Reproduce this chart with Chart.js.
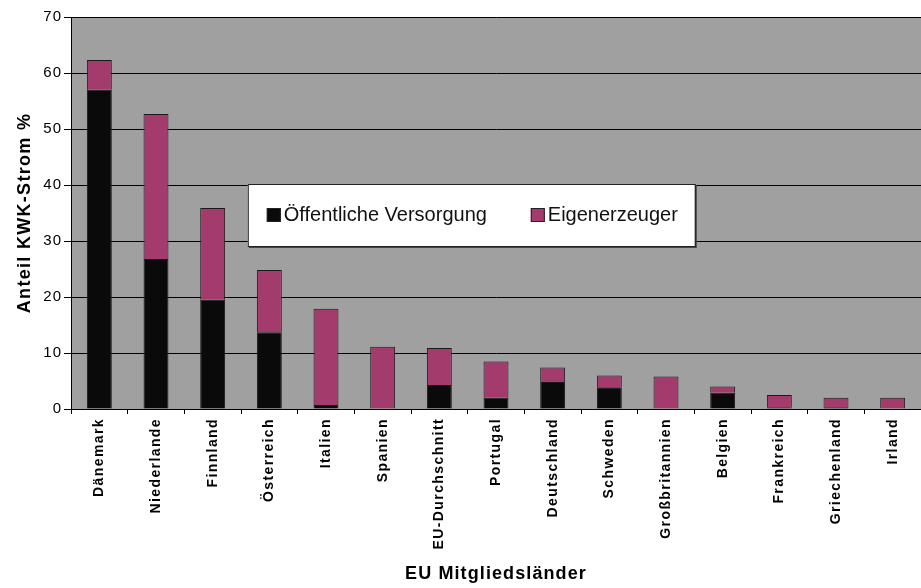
<!DOCTYPE html>
<html>
<head>
<meta charset="utf-8">
<script src="https://cdn.jsdelivr.net/npm/chart.js@4"></script>
<style>
	html, body { margin: 0; padding: 0; background: #fff; }
	#wrap { width: 921px; height: 588px; }
</style>
</head>
<body>
<div id="wrap"><canvas id="kwkChart" width="921" height="588"></canvas></div>
<script>
// EU member states
const countries = ["Dänemark", "Niederlande", "Finnland", "Österreich", "Italien", "Spanien", "EU-Durchschnitt",
	"Portugal", "Deutschland", "Schweden", "Großbritannien", "Belgien", "Frankreich", "Griechenland", "Irland"];

// share of CHP electricity, public supply (%)
const publicSupply = [57.0, 26.8, 19.5, 13.7, 0.7, 0, 4.3, 2.0, 4.8, 3.9, 0, 2.9, 0.3, 0.3, 0];

// share of CHP electricity, autoproducers (%)
const autoProducers = [5.3, 25.9, 16.4, 11.1, 17.2, 11.1, 6.6, 6.5, 2.6, 2.1, 5.8, 1.1, 2.2, 1.7, 2.0];

const seriesNames = ["Öffentliche Versorgung", "Eigenerzeuger"];
const seriesColors = ["#0a0a0a", "#a33b6c"];

const FONT = "'Liberation Sans', Arial, sans-serif";

// gray plot background
const plotBackground = {
	id: "plotBackground",
	beforeDraw: (chart) => {
		const { ctx, chartArea: a } = chart;
		ctx.save();
		ctx.fillStyle = "#a0a0a0";
		ctx.fillRect(a.left, a.top, a.right - a.left, a.bottom - a.top);
		ctx.restore();
	}
};

// wider letter spacing on axis texts (like the old office chart)
const spacing = { x: { labels: "1.4px", title: "1.1px" }, y: { labels: "1px", title: "1.3px" } };
const letterSpacing = {
	id: "letterSpacing",
	afterLayout: (chart) => {
		const ctx = chart.ctx;
		Object.keys(spacing).forEach((id) => {
			const s = chart.scales[id];
			if (!s || s._spaced) return;
			s._spaced = true;
			const drawLabels = s.drawLabels.bind(s);
			const drawTitle = s.drawTitle.bind(s);
			s.drawLabels = (area) => {
				ctx.save();
				ctx.letterSpacing = spacing[id].labels;
				drawLabels(area);
				ctx.restore();
			};
			s.drawTitle = (area) => {
				ctx.save();
				ctx.letterSpacing = spacing[id].title;
				drawTitle(area);
				ctx.restore();
			};
		});
	}
};

// legend box drawn inside the plot
const boxLegend = {
	id: "boxLegend",
	afterDraw: (chart) => {
		const { ctx, chartArea: a } = chart;
		const w = a.right - a.left;
		const x = a.left + w * 0.208;
		const y = a.top + 167;
		const bw = 447, bh = 62;
		ctx.save();
		ctx.fillStyle = "#444";
		ctx.fillRect(x + 1, y + 1, bw + 1, bh + 1);
		ctx.fillStyle = "#fff";
		ctx.fillRect(x, y, bw, bh);
		ctx.strokeStyle = "#222";
		ctx.lineWidth = 1;
		ctx.strokeRect(x + 0.5, y + 0.5, bw, bh);

		ctx.font = "20px " + FONT;
		ctx.textBaseline = "middle";
		const items = [[x + 19, seriesNames[0], seriesColors[0]], [x + 283, seriesNames[1], seriesColors[1]]];
		items.forEach(([ix, label, color]) => {
			ctx.fillStyle = color;
			ctx.fillRect(ix, y + 24, 14, 14);
			ctx.strokeStyle = "#222";
			ctx.strokeRect(ix + 0.5, y + 24.5, 13, 13);
			ctx.fillStyle = "#111";
			ctx.fillText(label, ix + 17, y + 31);
		});
		ctx.restore();
	}
};

const kwkChart = document.getElementById("kwkChart");
new Chart(kwkChart, {
	type: "bar",
	data: {
		labels: countries,
		datasets: [{
			label: seriesNames[0],
			data: publicSupply,
			backgroundColor: seriesColors[0],
			borderColor: "#1a1a1a",
			borderWidth: 1,
			barPercentage: 0.44,
			categoryPercentage: 1
		}, {
			label: seriesNames[1],
			data: autoProducers,
			backgroundColor: seriesColors[1],
			borderColor: "#1a1a1a",
			borderWidth: 1,
			barPercentage: 0.44,
			categoryPercentage: 1
		}]
	},
	options: {
		responsive: false,
		animation: false,
		layout: { padding: { top: 17, right: 0, left: 0, bottom: 0 } },
		plugins: {
			legend: { display: false },
			tooltip: { enabled: false }
		},
		scales: {
			x: {
				stacked: true,
				afterFit: (scale) => { scale.height = 179; },
				grid: { display: true, drawOnChartArea: false, color: "#000", tickLength: 5, offset: true },
				border: { color: "#000", width: 1 },
				ticks: {
					minRotation: 90, maxRotation: 90, autoSkip: false, color: "#000", padding: 4,
					font: { family: FONT, size: 14, weight: "bold" }
				},
				title: {
					display: true, text: "EU Mitgliedsländer", color: "#000", padding: { top: 0, bottom: 3 },
					font: { family: FONT, size: 18, weight: "bold" }
				}
			},
			y: {
				stacked: true,
				min: 0, max: 70,
				afterFit: (scale) => { scale.width = 71; },
				grid: { color: "#000", tickLength: 7 },
				border: { color: "#000", width: 1 },
				ticks: {
					stepSize: 10, color: "#000", padding: 2,
					font: { family: FONT, size: 15 }
				},
				title: {
					display: true, text: "Anteil KWK-Strom %", color: "#000", padding: { top: 14, bottom: 0 },
					font: { family: FONT, size: 18, weight: "bold" }
				}
			}
		}
	},
	plugins: [plotBackground, letterSpacing, boxLegend]
});
</script>
</body>
</html>
